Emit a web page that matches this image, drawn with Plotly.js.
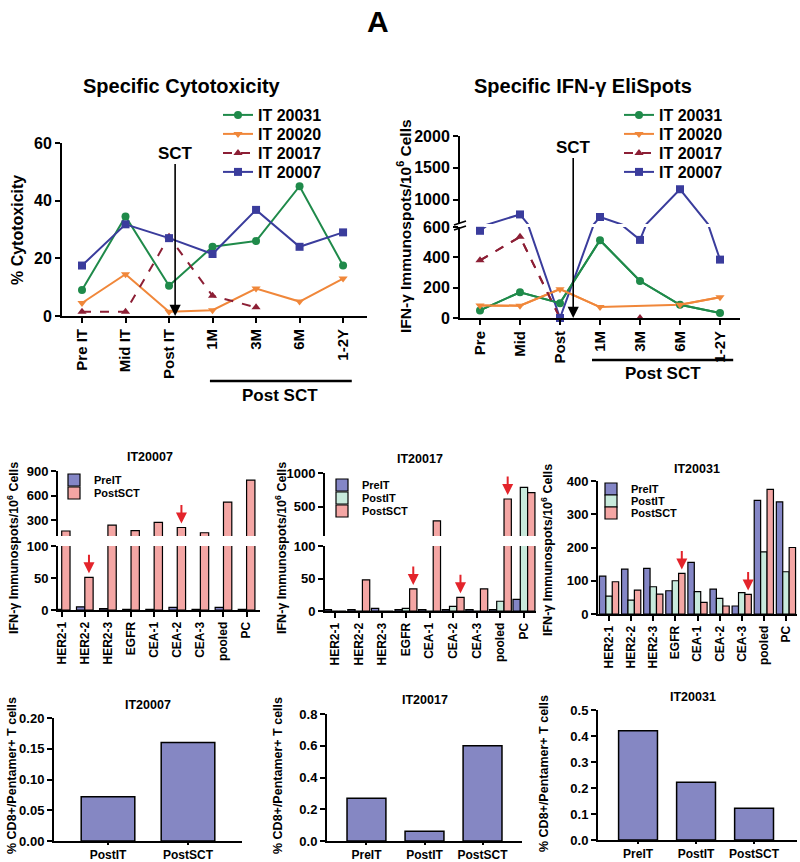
<!DOCTYPE html>
<html><head><meta charset="utf-8">
<script src="https://cdn.plot.ly/plotly-3.0.1.min.js"></script>
<style>html,body{margin:0;padding:0;background:#fff}#chart{width:800px;height:862px}</style>
</head><body><div id="chart"></div>
<script>
// ---------------- DATA ----------------
const timeLabelsCyto = ['Pre IT','Mid IT','Post IT','1M','3M','6M','1-2Y'];
const timeLabelsElispot = ['Pre','Mid','Post','1M','3M','6M','1-2Y'];
const seriesNames = ['IT 20031','IT 20020','IT 20017','IT 20007'];
const cyto20031 = [9, 34.5, 10.5, 24, 26, 45, 17.5];
const cyto20020 = [4.5, 14.5, 1.5, 2, 9.5, 5, 13];
const cyto20017 = [1.5, 1.5, 27.5, 7, 3, null, null];
const cyto20007 = [17.5, 31.8, 27, 21.5, 36.8, 24, 29];
const elis20031 = [50, 170, 98, 513, 244, 87, 33];
const elis20020 = [83, 81, 190, 72, null, 87, 137];
const elis20017 = [380, 535, 0, null, 0, null, null];
const elis20007 = [575, 770, 0, 730, 515, 1165, 385];

const antigens = ['HER2-1','HER2-2','HER2-3','EGFR','CEA-1','CEA-2','CEA-3','pooled','PC'];
const it20007PreIT   = [1, 5, 2, 1, 1, 4, 1, 4, 1];
const it20007PostSCT = [165, 51, 236, 170, 272, 208, 144, 520, 788];
const it20017PreIT   = [2, 2, 4, 2, 2, 2, 2, 2, 18];
const it20017PostIT  = [0, 0, 0, 4, 0, 7, 0, 15, 785];
const it20017PostSCT = [0, 48, 0, 34, 288, 21, 34, 613, 707];
const it20031PreIT   = [114, 135, 137, 70, 155, 75, 24, 342, 337];
const it20031PostIT  = [54, 42, 82, 100, 67, 47, 64, 187, 127];
const it20031PostSCT = [97, 72, 60, 122, 35, 24, 59, 375, 200];
const arrows20007 = ['HER2-2','CEA-2'];
const arrows20017 = ['EGFR','CEA-2','pooled'];
const arrows20031 = ['EGFR','CEA-3'];

const pentStages2 = ['PostIT','PostSCT'];
const pentStages3 = ['PreIT','PostIT','PostSCT'];
const pent20007 = [0.072, 0.16];
const pent20017 = [0.27, 0.062, 0.6];
const pent20031 = [0.42, 0.222, 0.122];

// ---------------- HELPERS ----------------
const W = 800, H = 862;
const fx = p => p / W;
const fy = p => 1 - p / H;
const FONT = 'Arial, "Liberation Sans", sans-serif';
const BK = '#000';
const bold = (size) => ({family: FONT, size: size, color: BK, weight: 'bold'});
const C_PRE = '#8486c6', C_POSTIT = '#c8eadc', C_POSTSCT = '#f4a6a4', C_RED = '#e3242b';

const layout = {
  width: W, height: H, margin: {l: 0, r: 0, t: 0, b: 0}, paper_bgcolor: '#fff', plot_bgcolor: 'rgba(0,0,0,0)',
  font: {family: FONT, color: BK}, showlegend: true, barmode: 'overlay', hovermode: false
};
// one legend box per entry, so that each entry sits where the reference puts it
let legendCount = 0;
function newLegend(x, yCenter, size) {
  legendCount++;
  const id = legendCount === 1 ? 'legend' : 'legend' + legendCount;
  layout[id] = {x: fx(x), y: fy(yCenter), xanchor: 'left', yanchor: 'middle', bgcolor: 'rgba(0,0,0,0)',
    font: bold(size), itemclick: false, itemdoubleclick: false};
  return id;
}

function yax(top, bottom, range, anchor, opts) {
  return Object.assign({domain: [fy(bottom), fy(top)], range: range, anchor: anchor,
    showline: true, linecolor: BK, linewidth: 2, ticks: 'outside', ticklen: 5, tickwidth: 2,
    tickcolor: BK, showgrid: false, zeroline: false, fixedrange: true, tickfont: bold(13)}, opts || {});
}
function xax(left, right, range, anchor, opts) {
  return Object.assign({domain: [fx(left), fx(right)], range: range, anchor: anchor, type: 'category',
    showline: true, linecolor: BK, linewidth: 2, ticks: 'outside', ticklen: 5, tickwidth: 2,
    tickcolor: BK, showgrid: false, zeroline: false, fixedrange: true, tickfont: bold(12)}, opts || {});
}

const lineStyles = [
  {color: '#1f8a4a', symbol: 'circle', dash: 'solid', connect: false},
  {color: '#f0873a', symbol: 'triangle-down', dash: 'solid', connect: true},
  {color: '#8c1f35', symbol: 'triangle-up', dash: 'dash', connect: false},
  {color: '#3a3c9c', symbol: 'square', dash: 'solid', connect: false}
];
const cytoData = [cyto20031, cyto20020, cyto20017, cyto20007];
const elisData = [elis20031, elis20020, elis20017, elis20007];
const topLegendRows = [115, 134, 153, 172];

const traces = [];
// ---- Top-left: cytotoxicity
cytoData.forEach((d, i) => {
  const s = lineStyles[i];
  traces.push({type: 'scatter', mode: 'lines+markers', x: timeLabelsCyto, y: d, name: seriesNames[i],
    xaxis: 'x', yaxis: 'y', cliponaxis: false, connectgaps: s.connect, legend: newLegend(218, topLegendRows[i], 16),
    line: {color: s.color, width: 2, dash: s.dash}, marker: {color: s.color, symbol: s.symbol, size: 8},
    hoverinfo: 'skip'});
});
// ---- Top-right: ELISpot with broken axis (lower y2 0-600, upper y3 >600)
const ELIS_BREAK = 600;
elisData.forEach((d, i) => {
  const s = lineStyles[i];
  ['y2', 'y3'].forEach(ya => traces.push({type: 'scatter', mode: 'lines', x: timeLabelsElispot, y: d,
    xaxis: 'x2', yaxis: ya, showlegend: false, connectgaps: s.connect,
    line: {color: s.color, width: 2, dash: s.dash}, hoverinfo: 'skip'}));
});
elisData.forEach((d, i) => {
  const s = lineStyles[i];
  traces.push({type: 'scatter', mode: 'lines+markers', x: timeLabelsElispot,
    y: d.map(v => (v !== null && v <= ELIS_BREAK) ? v : null), name: seriesNames[i],
    xaxis: 'x2', yaxis: 'y2', cliponaxis: false, connectgaps: false, legend: newLegend(619, topLegendRows[i], 16),
    line: {color: s.color, width: 2, dash: s.dash}, marker: {color: s.color, symbol: s.symbol, size: 8},
    hoverinfo: 'skip'});
  traces.push({type: 'scatter', mode: 'markers', x: timeLabelsElispot,
    y: d.map(v => (v !== null && v > ELIS_BREAK) ? v : null), showlegend: false,
    xaxis: 'x2', yaxis: 'y3', cliponaxis: false,
    marker: {color: s.color, symbol: s.symbol, size: 8}, hoverinfo: 'skip'});
});

// ---- Middle row bars
function addBars(groups, xa, yas, bw, legX, legRows) {
  const n = groups.length;
  groups.forEach((g, k) => {
    const off = -n * bw / 2 + k * bw;
    const leg = newLegend(legX, legRows[k], 11);
    yas.forEach((ya, j) => traces.push({type: 'bar', x: antigens, y: g.y, name: g.name,
      xaxis: xa, yaxis: ya, offset: off, width: bw, legend: leg, showlegend: j === 0,
      marker: {color: g.color, line: {color: BK, width: 1.2}}, hoverinfo: 'skip'}));
  });
}
const BW2 = 0.36, BW3 = 0.31, BW3b = 0.29;
addBars([{name: 'PreIT', y: it20007PreIT, color: C_PRE}, {name: 'PostSCT', y: it20007PostSCT, color: C_POSTSCT}],
  'x3', ['y4', 'y5'], BW2, 54, [480, 493]);
addBars([{name: 'PreIT', y: it20017PreIT, color: C_PRE}, {name: 'PostIT', y: it20017PostIT, color: C_POSTIT},
  {name: 'PostSCT', y: it20017PostSCT, color: C_POSTSCT}], 'x4', ['y6', 'y7'], BW3, 322, [485, 498, 511]);
addBars([{name: 'PreIT', y: it20031PreIT, color: C_PRE}, {name: 'PostIT', y: it20031PostIT, color: C_POSTIT},
  {name: 'PostSCT', y: it20031PostSCT, color: C_POSTSCT}], 'x5', ['y8'], BW3b, 591, [489, 501, 513]);

// ---- Bottom row
const pentColor = '#8587c3';
[[pentStages2, pent20007, 'x6', 'y9'], [pentStages3, pent20017, 'x7', 'y10'], [pentStages3, pent20031, 'x8', 'y11']]
  .forEach(([xs, ys, xa, ya]) => traces.push({type: 'bar', x: xs, y: ys, xaxis: xa, yaxis: ya, width: 0.67,
    showlegend: false, marker: {color: pentColor, line: {color: BK, width: 1.5}}, hoverinfo: 'skip'}));

// ---------------- ANNOTATIONS ----------------
const ann = [];
const txt = (x, y, text, size, extra) => ann.push(Object.assign({xref: 'paper', yref: 'paper', x: fx(x), y: fy(y),
  text: text, showarrow: false, font: bold(size), xanchor: 'center', yanchor: 'middle'}, extra || {}));
txt(378, 22, 'A', 30);
txt(182, 86, 'Specific Cytotoxicity', 20);
txt(583, 86, 'Specific IFN-γ EliSpots', 20);
txt(18, 230, '% Cytotoxicity', 16, {textangle: -90});
txt(404, 226, 'IFN-γ Immunospots/10<sup>6</sup> Cells', 15.5, {textangle: -90});
txt(280, 395, 'Post SCT', 17);
txt(663, 373, 'Post SCT', 17);
txt(150, 457, 'IT20007', 12.5);
txt(420, 459, 'IT20017', 12.5);
txt(697, 469, 'IT20031', 12.5);
txt(13, 548, 'IFN-γ Immunospots/10<sup>6</sup> Cells', 12.5, {textangle: -90});
txt(281, 548, 'IFN-γ Immunospots/10<sup>6</sup> Cells', 12.5, {textangle: -90});
txt(547, 550, 'IFN-γ Immunospots/10<sup>6</sup> Cells', 12.5, {textangle: -90});
txt(148, 705, 'IT20007', 12.5);
txt(425, 700, 'IT20017', 12.5);
txt(693, 697, 'IT20031', 12.5);
txt(12, 776, '% CD8+/Pentamer+ T cells', 12.5, {textangle: -90});
txt(278, 776, '% CD8+/Pentamer+ T cells', 12.5, {textangle: -90});
txt(544, 774, '% CD8+/Pentamer+ T cells', 12.5, {textangle: -90});
// SCT arrows
ann.push({xref: 'x', yref: 'y', x: 2.14, y: 0, ax: 0, ay: -163, text: 'SCT', font: bold(17), showarrow: true,
  arrowhead: 2, arrowsize: 1.4, arrowwidth: 1.6, arrowcolor: BK, standoff: 0});
ann.push({xref: 'x2', yref: 'y2', x: 2.33, y: 0, ax: 0, ay: -171, text: 'SCT', font: bold(17), showarrow: true,
  arrowhead: 2, arrowsize: 1.4, arrowwidth: 1.6, arrowcolor: BK, standoff: 0});
// red arrows on PostSCT bars
function redArrows(list, values, xa, lowerYa, upperYa, lowerMax, dx) {
  list.forEach(name => {
    const idx = antigens.indexOf(name);
    const v = values[idx];
    const ya = (upperYa && v > lowerMax) ? upperYa : lowerYa;
    ann.push({xref: xa, yref: ya, x: idx + dx, y: v, ax: 0, ay: -24, text: '', showarrow: true,
      arrowhead: 2, arrowsize: 1.1, arrowwidth: 2, arrowcolor: C_RED, standoff: 4});
  });
}
redArrows(arrows20007, it20007PostSCT, 'x3', 'y4', 'y5', 100, BW2 / 2);
redArrows(arrows20017, it20017PostSCT, 'x4', 'y6', 'y7', 100, BW3);
redArrows(arrows20031, it20031PostSCT, 'x5', 'y8', null, 400, BW3b);

// ---------------- SHAPES ----------------
const shapes = [
  {type: 'line', xref: 'x', yref: 'paper', x0: 2.94, x1: 6.2, y0: fy(381), y1: fy(381), line: {color: BK, width: 2.5}},
  {type: 'line', xref: 'x2', yref: 'paper', x0: 2.8, x1: 6.33, y0: fy(360), y1: fy(360), line: {color: BK, width: 2.5}},
  {type: 'line', xref: 'paper', yref: 'paper', x0: fx(454), x1: fx(466), y0: fy(225), y1: fy(221), line: {color: BK, width: 1.8}},
  {type: 'line', xref: 'paper', yref: 'paper', x0: fx(454), x1: fx(466), y0: fy(230), y1: fy(226), line: {color: BK, width: 1.8}}
];

// ---------------- AXES ----------------
Object.assign(layout, {
  xaxis: xax(62, 367, [-0.46, 6.55], 'y', {tickangle: -90, tickfont: bold(15)}),
  yaxis: yax(143, 316, [0, 60], 'x', {tickvals: [0, 20, 40, 60], tickfont: bold(16)}),
  xaxis2: xax(460, 740, [-0.5, 6.5], 'y2', {tickangle: -90, tickfont: bold(15)}),
  yaxis2: yax(227, 318, [0, 600], 'x2', {tickvals: [0, 200, 400, 600], tickfont: bold(16)}),
  yaxis3: yax(136, 224, [620, 2000], 'x2', {tickvals: [1000, 1500, 2000], tickfont: bold(16)}),
  xaxis3: xax(58, 260, [-0.16, 8.58], 'y4', {tickangle: -90}),
  yaxis4: yax(546, 610, [0, 100], 'x3', {tickvals: [0, 50, 100]}),
  yaxis5: yax(471, 536, [104, 900], 'x3', {tickvals: [300, 600, 900]}),
  xaxis4: xax(325, 536, [-0.43, 8.51], 'y6', {tickangle: -90}),
  yaxis6: yax(546, 611, [0, 100], 'x4', {tickvals: [0, 50, 100]}),
  yaxis7: yax(473, 536, [63, 1000], 'x4', {tickvals: [500, 1000]}),
  xaxis5: xax(598, 797, [-0.5, 8.5], 'y8', {tickangle: -90}),
  yaxis8: yax(481, 614, [0, 400], 'x5', {tickvals: [0, 100, 200, 300, 400]}),
  xaxis6: xax(54, 242, [-0.675, 1.675], 'y9', {tickfont: bold(12), ticklen: 2}),
  yaxis9: yax(718, 841, [0, 0.2], 'x6', {tickvals: [0, 0.05, 0.1, 0.15, 0.2], tickformat: '.2f'}),
  xaxis7: xax(327, 522, [-0.68, 2.68], 'y10', {tickfont: bold(12), ticklen: 2}),
  yaxis10: yax(714, 841, [0, 0.8], 'x7', {tickvals: [0, 0.2, 0.4, 0.6, 0.8], tickformat: '.1f'}),
  xaxis8: xax(598, 797, [-0.69, 2.74], 'y11', {tickfont: bold(12), ticklen: 2}),
  yaxis11: yax(710, 840, [0, 0.5], 'x8', {tickvals: [0, 0.1, 0.2, 0.3, 0.4, 0.5], tickformat: '.1f'}),
  annotations: ann,
  shapes: shapes
});

Plotly.newPlot('chart', traces, layout, {staticPlot: true, displayModeBar: false});
</script>
</body></html>
